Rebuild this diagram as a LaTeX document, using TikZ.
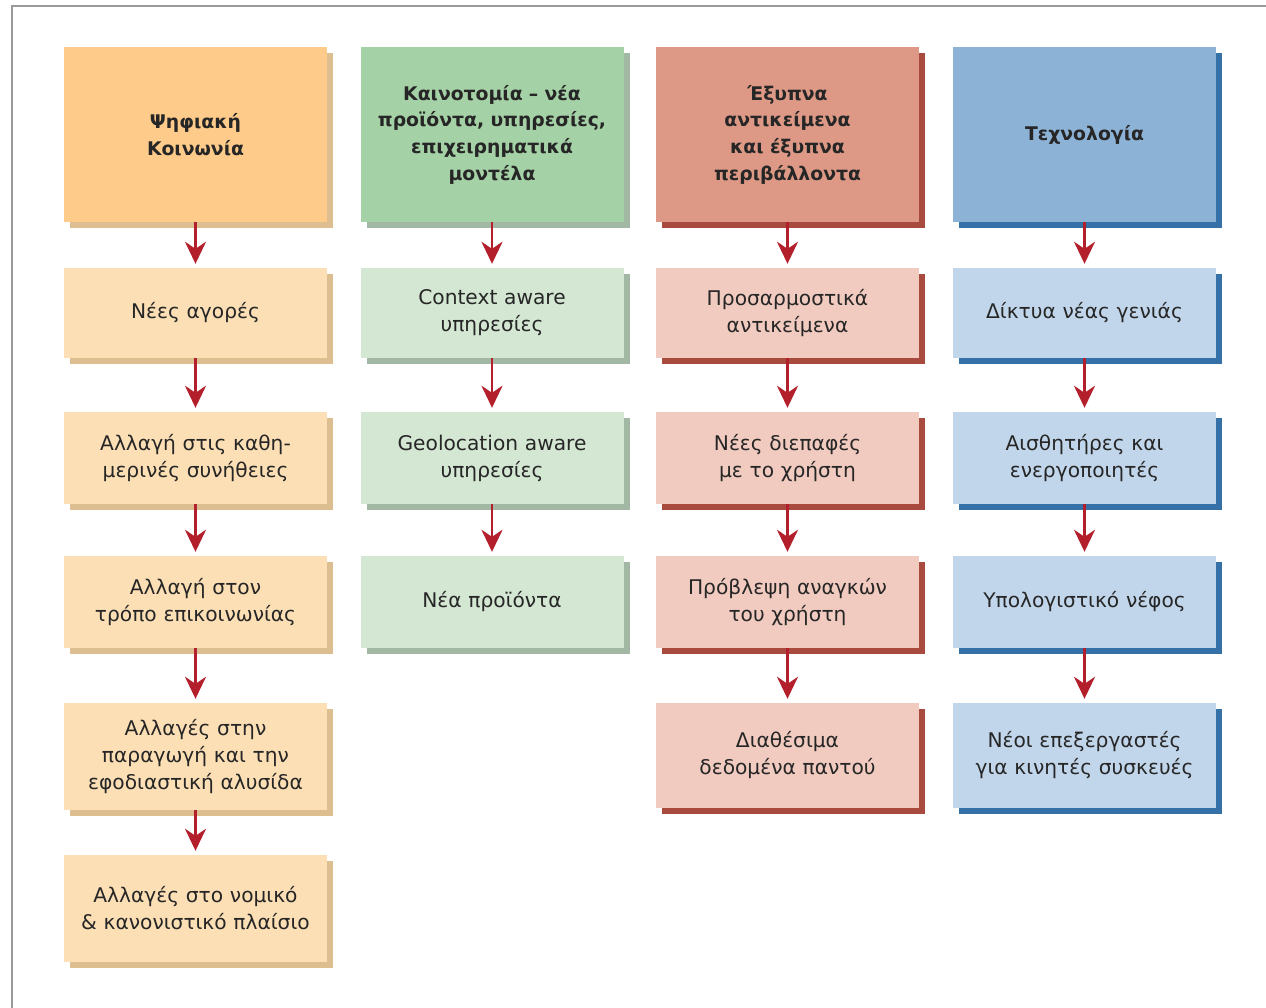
\documentclass[tikz,border=0pt]{standalone}
\usepackage{fontspec}
\setmainfont{DejaVu Sans}
\usetikzlibrary{arrows.meta,shadows}
\definecolor{oH}{HTML}{FECB8A}\definecolor{oS}{HTML}{FCDFB5}\definecolor{oD}{HTML}{DDBE90}
\definecolor{gH}{HTML}{A5D1A6}\definecolor{gS}{HTML}{D4E7D3}\definecolor{gD}{HTML}{A3B8A4}
\definecolor{rH}{HTML}{DD9985}\definecolor{rS}{HTML}{F1CBBF}\definecolor{rD}{HTML}{A84A3E}
\definecolor{bH}{HTML}{8CB2D6}\definecolor{bS}{HTML}{C2D6EB}\definecolor{bD}{HTML}{3570A6}
\definecolor{arr}{HTML}{B3202C}
\definecolor{txt}{HTML}{262626}
\tikzset{
  box/.style={rectangle, inner sep=0pt, minimum width=263pt, text width=255pt, align=center,
    text=txt, font=\fontsize{20.2}{27}\selectfont},
  hbox/.style={box, font=\fontsize{18.8}{26.7}\selectfont\bfseries, minimum height=175pt},
  sh/.style={drop shadow={shadow xshift=6pt, shadow yshift=-6pt, fill=#1, opacity=1}},
  flow/.style={draw=arr, line width=2.6pt, -{Stealth[length=22pt,width=21pt,inset=7pt]}},
  frame/.style={draw=gray!80, line width=2pt}
}
\begin{document}
\begin{tikzpicture}[x=1pt,y=-1pt]
\useasboundingbox (0,0) rectangle (1266,1008);
\fill[white] (0,0) rectangle (1266,1008);
\draw[frame] (12,1010) -- (12,6) -- (1268,6);
% column 1
\node[hbox, fill=oH, sh=oD] (c1h) at (195.5,134.5) {Ψηφιακή\\Κοινωνία};
\node[box, fill=oS, sh=oD, minimum height=90pt] (c1a) at (195.5,313) {Νέες αγορές};
\node[box, fill=oS, sh=oD, minimum height=92pt] (c1b) at (195.5,458) {Αλλαγή στις καθη-\\μερινές συνήθειες};
\node[box, fill=oS, sh=oD, minimum height=92pt] (c1c) at (195.5,602) {Αλλαγή στον\\τρόπο επικοινωνίας};
\node[box, fill=oS, sh=oD, minimum height=107pt] (c1d) at (195.5,756.5) {Αλλαγές στην\\παραγωγή και την\\εφοδιαστική αλυσίδα};
\node[box, fill=oS, sh=oD, minimum height=107pt] (c1e) at (195.5,908.5) {Αλλαγές στο νομικό\\\& κανονιστικό πλαίσιο};
% column 2
\node[hbox, fill=gH, sh=gD] (c2h) at (492,134.5) {Καινοτομία – νέα\\προϊόντα, υπηρεσίες,\\επιχειρηματικά\\μοντέλα};
\node[box, fill=gS, sh=gD, minimum height=90pt] (c2a) at (492,313) {Context aware\\υπηρεσίες};
\node[box, fill=gS, sh=gD, minimum height=92pt] (c2b) at (492,458) {Geolocation aware\\υπηρεσίες};
\node[box, fill=gS, sh=gD, minimum height=92pt] (c2c) at (492,602) {Νέα προϊόντα};
% column 3
\node[hbox, fill=rH, sh=rD] (c3h) at (787.5,134.5) {Έξυπνα\\αντικείμενα\\και έξυπνα\\περιβάλλοντα};
\node[box, fill=rS, sh=rD, minimum height=90pt] (c3a) at (787.5,313) {Προσαρμοστικά\\αντικείμενα};
\node[box, fill=rS, sh=rD, minimum height=92pt] (c3b) at (787.5,458) {Νέες διεπαφές\\με το χρήστη};
\node[box, fill=rS, sh=rD, minimum height=92pt] (c3c) at (787.5,602) {Πρόβλεψη αναγκών\\του χρήστη};
\node[box, fill=rS, sh=rD, minimum height=105pt] (c3d) at (787.5,755.5) {Διαθέσιμα\\δεδομένα παντού};
% column 4
\node[hbox, fill=bH, sh=bD] (c4h) at (1084.5,134.5) {Τεχνολογία};
\node[box, fill=bS, sh=bD, minimum height=90pt] (c4a) at (1084.5,313) {Δίκτυα νέας γενιάς};
\node[box, fill=bS, sh=bD, minimum height=92pt] (c4b) at (1084.5,458) {Αισθητήρες και\\ενεργοποιητές};
\node[box, fill=bS, sh=bD, minimum height=92pt] (c4c) at (1084.5,602) {Υπολογιστικό νέφος};
\node[box, fill=bS, sh=bD, minimum height=105pt] (c4d) at (1084.5,755.5) {Νέοι επεξεργαστές\\για κινητές συσκευές};
% arrows
\foreach \a/\b in {c1h/c1a,c1a/c1b,c1b/c1c,c1c/c1d,c1d/c1e,
                   c2h/c2a,c2a/c2b,c2b/c2c,
                   c3h/c3a,c3a/c3b,c3b/c3c,c3c/c3d,
                   c4h/c4a,c4a/c4b,c4b/c4c,c4c/c4d}
  \draw[flow] (\a.south) -- ([yshift=4pt]\b.north);
\end{tikzpicture}
\end{document}
